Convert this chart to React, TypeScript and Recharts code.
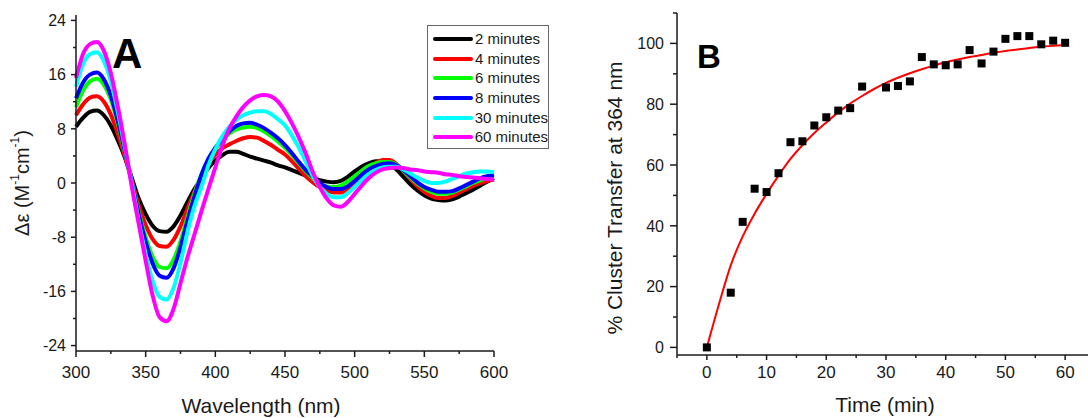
import React from 'react';
import { LineChart, Line, XAxis, YAxis, Legend, ComposedChart, Scatter } from 'recharts';

const FONT = '"Liberation Sans", Arial, sans-serif';
const INK = '#1a1a1a';

// ---------- Panel A: CD spectra ----------
const wavelengths = [300, 305, 310, 315, 320, 325, 330, 335, 340, 345, 350, 355, 360, 365, 370, 375, 380, 385, 390, 395, 400, 405, 410, 415, 420, 425, 430, 435, 440, 445, 450, 455, 460, 465, 470, 475, 480, 485, 490, 495, 500, 505, 510, 515, 520, 525, 530, 535, 540, 545, 550, 555, 560, 565, 570, 575, 580, 585, 590, 595, 600];
const cd2min = [8.3, 9.6, 10.5, 10.7, 10.0, 8.5, 6.3, 3.8, 0.8, -2.3, -4.6, -6.3, -7.1, -7.2, -6.4, -4.8, -2.8, -0.9, 0.6, 2.2, 3.3, 4.1, 4.6, 4.6, 4.3, 3.9, 3.6, 3.3, 3.0, 2.6, 2.3, 1.9, 1.5, 1.1, 0.7, 0.4, 0.2, 0.1, 0.3, 0.9, 1.7, 2.4, 2.9, 3.2, 3.2, 2.8, 2.0, 0.9, -0.2, -1.1, -1.8, -2.3, -2.5, -2.6, -2.4, -2.0, -1.5, -1.0, -0.4, 0.2, 0.7];
const cd4min = [10.0, 11.6, 12.6, 12.8, 12.0, 10.1, 7.3, 4.0, 0.4, -3.3, -6.2, -8.3, -9.3, -9.4, -8.4, -6.4, -3.8, -1.3, 0.9, 2.8, 4.2, 5.1, 5.7, 6.2, 6.6, 6.8, 6.7, 6.2, 5.6, 4.9, 4.2, 3.2, 2.1, 1.0, 0.1, -0.6, -1.1, -1.4, -1.4, -0.9, 0.0, 1.1, 2.1, 2.9, 3.4, 3.4, 2.8, 1.8, 0.6, -0.5, -1.3, -1.9, -2.2, -2.2, -1.9, -1.4, -0.9, -0.4, 0.0, 0.3, 0.5];
const cd6min = [11.2, 13.6, 15.0, 15.4, 14.5, 12.3, 8.8, 4.6, 0.2, -4.3, -8.0, -10.9, -12.4, -12.6, -11.3, -8.6, -5.0, -1.6, 1.3, 3.4, 5.0, 6.3, 7.3, 7.9, 8.2, 8.3, 8.1, 7.6, 6.9, 6.1, 5.2, 4.1, 2.9, 1.7, 0.7, -0.1, -0.5, -0.6, -0.4, 0.2, 1.0, 1.8, 2.5, 2.9, 3.1, 3.1, 2.7, 1.8, 0.8, -0.1, -0.8, -1.3, -1.6, -1.6, -1.4, -1.0, -0.5, 0.0, 0.4, 0.7, 0.8];
const cd8min = [12.5, 14.8, 16.0, 16.3, 15.3, 12.9, 9.2, 4.8, 0.2, -4.6, -8.7, -11.9, -13.7, -14.0, -12.6, -9.5, -5.6, -2.0, 1.2, 3.6, 5.2, 6.5, 7.6, 8.4, 8.8, 8.9, 8.6, 8.1, 7.4, 6.6, 5.6, 4.4, 3.1, 1.9, 0.9, 0.0, -0.6, -0.9, -0.9, -0.5, 0.3, 1.2, 2.0, 2.5, 2.8, 2.9, 2.6, 1.9, 1.0, 0.1, -0.6, -1.0, -1.3, -1.3, -1.2, -0.8, -0.3, 0.2, 0.7, 1.0, 1.2];
const cd30min = [14.2, 17.5, 19.0, 19.3, 18.0, 15.0, 10.5, 5.3, 0.0, -5.6, -10.5, -14.5, -16.8, -17.2, -15.5, -11.8, -7.2, -3.4, -0.6, 2.6, 5.0, 6.9, 8.3, 9.3, 10.0, 10.4, 10.6, 10.6, 10.2, 9.4, 8.5, 7.0, 5.2, 3.1, 1.0, -0.6, -1.6, -2.1, -2.1, -1.5, -0.6, 0.4, 1.3, 1.9, 2.3, 2.4, 2.4, 2.0, 1.4, 0.8, 0.3, 0.0, 0.0, 0.2, 0.6, 1.0, 1.4, 1.6, 1.7, 1.7, 1.6];
const cd60min = [15.5, 19.0, 20.5, 20.8, 19.5, 16.2, 11.3, 5.7, -0.5, -6.0, -11.5, -16.6, -19.8, -20.4, -18.6, -14.8, -11.0, -7.6, -4.2, -0.9, 2.3, 5.5, 8.0, 9.8, 11.2, 12.2, 12.8, 13.0, 12.8, 12.0, 10.6, 8.8, 6.7, 4.3, 1.6, -0.6, -2.3, -3.3, -3.5, -2.8, -1.6, -0.4, 0.7, 1.5, 2.0, 2.2, 2.3, 2.2, 2.0, 1.9, 1.7, 1.6, 1.5, 1.3, 1.2, 1.0, 0.9, 0.8, 0.7, 0.6, 0.5];

const seriesNames = ['2 minutes', '4 minutes', '6 minutes', '8 minutes', '30 minutes', '60 minutes'];
const seriesColors = ['#000000', '#ff0000', '#00ff00', '#0000ff', '#00ffff', '#ff00ff'];
const seriesValues = [cd2min, cd4min, cd6min, cd8min, cd30min, cd60min];

const aXTicks = [300, 325, 350, 375, 400, 425, 450, 475, 500, 525, 550, 575, 600];
const aXLabels = [300, 350, 400, 450, 500, 550, 600];
const aYTicks = [-24, -20, -16, -12, -8, -4, 0, 4, 8, 12, 16, 20, 24];
const aYLabels = [-24, -16, -8, 0, 8, 16, 24];

// ---------- Panel B: cluster transfer ----------
const times = [0, 4, 6, 8, 10, 12, 14, 16, 18, 20, 22, 24, 26, 30, 32, 34, 36, 38, 40, 42, 44, 46, 48, 50, 52, 54, 56, 58, 60];
const transfer = [0, 18, 41.3, 52.2, 51.1, 57.3, 67.5, 67.8, 73.0, 75.7, 77.9, 78.7, 85.8, 85.5, 86.0, 87.5, 95.5, 93.1, 92.8, 93.1, 97.8, 93.4, 97.3, 101.5, 102.4, 102.4, 99.7, 100.9, 100.2];
const fitTimes = [0, 2, 4, 6, 8, 10, 12, 14, 16, 18, 20, 22, 24, 26, 28, 30, 32, 34, 36, 38, 40, 42, 44, 46, 48, 50, 52, 54, 56, 58, 60];
const fitValues = [0, 14, 27, 36.5, 44, 50.5, 56.5, 62, 66.5, 70.5, 74, 77.3, 80.2, 82.7, 85, 87, 88.7, 90.2, 91.5, 92.7, 93.8, 94.7, 95.5, 96.2, 96.9, 97.5, 98, 98.5, 98.9, 99.2, 99.5];

const bXTicks = [-5, 0, 5, 10, 15, 20, 25, 30, 35, 40, 45, 50, 55, 60, 65];
const bXLabels = [0, 10, 20, 30, 40, 50, 60];
const bYTicks = [0, 10, 20, 30, 40, 50, 60, 70, 80, 90, 100, 110];
const bYLabels = [0, 20, 40, 60, 80, 100];

const cdData = wavelengths.map((w, i) => {
  const row: Record<string, number> = { w };
  seriesValues.forEach((vals, k) => {
    row['s' + k] = vals[i];
  });
  return row;
});
const pointData = times.map((t, i) => ({ t, v: transfer[i] }));
const fitData = fitTimes.map((t, i) => ({ t, v: fitValues[i] }));

// ---------- tick renderers ----------
function leftTick(labels: number[], major: number, minor: number, gap: number, fontSize: number) {
  return (props: any) => {
    const { x, y, payload } = props;
    const v = payload.value;
    const isMajor = labels.includes(v);
    return (
      <g>
        <line x1={x} y1={y} x2={x - (isMajor ? major : minor)} y2={y} stroke={INK} strokeWidth={1.5} />
        {isMajor && (
          <text x={x - gap} y={y} dy="0.36em" textAnchor="end" fontSize={fontSize} fontFamily={FONT} fill={INK}>
            {v}
          </text>
        )}
      </g>
    );
  };
}

function bottomTick(labels: number[], major: number, minor: number, base: number, fontSize: number) {
  return (props: any) => {
    const { x, y, payload } = props;
    const v = payload.value;
    const isMajor = labels.includes(v);
    return (
      <g>
        <line x1={x} y1={y} x2={x} y2={y + (isMajor ? major : minor)} stroke={INK} strokeWidth={1.5} />
        {isMajor && (
          <text x={x} y={y + base} textAnchor="middle" fontSize={fontSize} fontFamily={FONT} fill={INK}>
            {v}
          </text>
        )}
      </g>
    );
  };
}

const LegendBox = () => (
  <div
    style={{
      border: '1px solid #666',
      background: '#fff',
      padding: '3px 0 1px 5px',
      width: 122,
      boxSizing: 'border-box',
      fontFamily: FONT,
    }}
  >
    {seriesNames.map((n, i) => (
      <div key={n} style={{ display: 'flex', alignItems: 'center', height: 19.7 }}>
        <span
          style={{
            display: 'inline-block',
            width: 40,
            height: 4,
            borderRadius: 2,
            background: seriesColors[i],
            marginRight: 2,
          }}
        />
        <span style={{ fontSize: 15, color: INK, lineHeight: '19.7px', whiteSpace: 'nowrap' }}>{n}</span>
      </div>
    ))}
  </div>
);

const PanelA = () => (
  <LineChart width={530} height={418} data={cdData} margin={{ top: 15, right: 36, bottom: 0, left: 0 }}>
    <XAxis
      dataKey="w"
      type="number"
      domain={[300, 600]}
      ticks={aXTicks}
      interval={0}
      height={67}
      tickSize={0}
      tickMargin={0}
      axisLine={{ stroke: INK, strokeWidth: 1.5 }}
      tickLine={false}
      tick={bottomTick(aXLabels, 6, 3, 27, 17)}
      label={() => (
        <g>
          <text x={261} y={413} textAnchor="middle" fontSize={21} fontFamily={FONT} fill={INK}>
            Wavelength (nm)
          </text>
          <text x={112} y={68} fontSize={42} fontWeight="bold" fontFamily={FONT} fill="#000">
            A
          </text>
        </g>
      )}
    />
    <YAxis
      type="number"
      domain={[-24.8, 24.8]}
      ticks={aYTicks}
      interval={0}
      width={76}
      tickSize={0}
      tickMargin={0}
      allowDataOverflow
      axisLine={{ stroke: INK, strokeWidth: 1.5 }}
      tickLine={false}
      tick={leftTick(aYLabels, 5, 3, 10, 16)}
      label={() => (
        <text
          x={22}
          y={183}
          transform="rotate(-90 22 183)"
          textAnchor="middle"
          dominantBaseline="central"
          fontSize={20}
          fontFamily={FONT}
          fill={INK}
        >
          Δε (M<tspan dy={-7} fontSize={12}>-1</tspan>
          <tspan dy={7}>cm</tspan>
          <tspan dy={-7} fontSize={12}>-1</tspan>
          <tspan dy={7}>)</tspan>
        </text>
      )}
    />
    {seriesNames.map((n, k) => (
      <Line
        key={n}
        name={n}
        dataKey={'s' + k}
        type="monotone"
        stroke={seriesColors[k]}
        strokeWidth={4}
        dot={false}
        activeDot={false}
        isAnimationActive={false}
      />
    ))}
    <Legend
      layout="horizontal"
      align="center"
      verticalAlign="middle"
      wrapperStyle={{ left: 427, top: 25, width: 122 }}
      content={() => <LegendBox />}
    />
  </LineChart>
);

const PanelB = () => (
  <ComposedChart width={535} height={418} margin={{ top: 13, right: 0, bottom: 0, left: 0 }}>
    <XAxis
      dataKey="t"
      type="number"
      domain={[-5, 65]}
      ticks={bXTicks}
      interval={0}
      height={63}
      tickSize={0}
      tickMargin={0}
      allowDataOverflow
      axisLine={{ stroke: INK, strokeWidth: 1.5 }}
      tickLine={false}
      tick={bottomTick(bXLabels, 5, 3, 23, 17)}
      label={() => (
        <g>
          <text x={325} y={412} textAnchor="middle" fontSize={21} fontFamily={FONT} fill={INK}>
            Time (min)
          </text>
          <text x={137} y={68} fontSize={33} fontWeight="bold" fontFamily={FONT} fill="#000">
            B
          </text>
        </g>
      )}
    />
    <YAxis
      type="number"
      domain={[-2.5, 110]}
      ticks={bYTicks}
      interval={0}
      width={117}
      tickSize={0}
      tickMargin={0}
      allowDataOverflow
      axisLine={{ stroke: INK, strokeWidth: 1.5 }}
      tickLine={false}
      tick={leftTick(bYLabels, 7, 4, 13, 16)}
      label={() => (
        <text
          x={54}
          y={198}
          transform="rotate(-90 54 198)"
          textAnchor="middle"
          dominantBaseline="central"
          fontSize={21}
          fontFamily={FONT}
          fill={INK}
        >
          % Cluster Transfer at 364 nm
        </text>
      )}
    />
    <Scatter
      data={pointData}
      dataKey="v"
      isAnimationActive={false}
      shape={(p: any) => <rect x={p.cx - 4} y={p.cy - 4} width={8} height={8} fill="#000" />}
    />
    <Line
      data={fitData}
      dataKey="v"
      type="monotone"
      stroke="#ff0000"
      strokeWidth={2}
      dot={false}
      activeDot={false}
      isAnimationActive={false}
    />
  </ComposedChart>
);

export default function App() {
  return (
    <div
      style={{
        position: 'fixed',
        left: 0,
        top: 0,
        width: 1088,
        height: 418,
        overflow: 'hidden',
        background: '#fff',
      }}
    >
      <div style={{ position: 'absolute', left: 0, top: 0 }}>
        <PanelA />
      </div>
      <div style={{ position: 'absolute', left: 560, top: 0 }}>
        <PanelB />
      </div>
    </div>
  );
}
